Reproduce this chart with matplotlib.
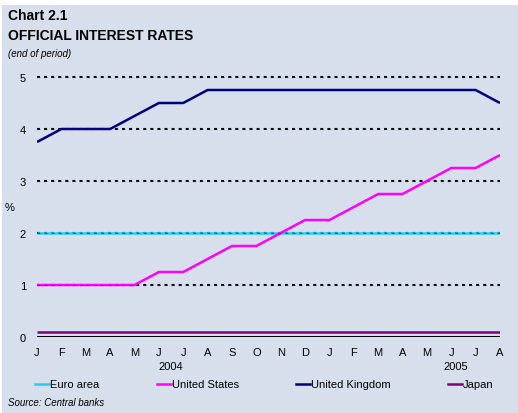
import matplotlib.pyplot as plt
from matplotlib.lines import Line2D
from matplotlib.patches import Rectangle

plt.rcParams['font.family'] = ['Liberation Sans', 'DejaVu Sans']

months = ['J', 'F', 'M', 'A', 'M', 'J', 'J', 'A', 'S', 'O', 'N', 'D',
          'J', 'F', 'M', 'A', 'M', 'J', 'J', 'A']
years = ['2004', '2005']
year_pos = [5.5, 17.2]

euro = [2.0] * 20
us = [1.0, 1.0, 1.0, 1.0, 1.0, 1.25, 1.25, 1.5, 1.75, 1.75,
      2.0, 2.25, 2.25, 2.5, 2.75, 2.75, 3.0, 3.25, 3.25, 3.5]
uk = [3.75, 4.0, 4.0, 4.0, 4.25, 4.5, 4.5, 4.75, 4.75, 4.75,
      4.75, 4.75, 4.75, 4.75, 4.75, 4.75, 4.75, 4.75, 4.75, 4.5]
japan = [0.1] * 20

names = ['Euro area', 'United States', 'United Kingdom', 'Japan']
colors = ['#22CCF5', '#FF00FF', '#000080', '#800080']
series = [euro, us, uk, japan]

bg = '#D8DFEC'
W, H = 518, 414

fig = plt.figure(figsize=(W / 100, H / 100), dpi=100, facecolor='white')
fig.add_artist(Rectangle((2 / W, 0), 1, 1 - 6 / H, transform=fig.transFigure,
                         facecolor=bg, edgecolor='none', zorder=0))

ax = fig.add_axes([37 / W, 1 - 338 / H, 463 / W, 5.2 * 52 / H])
ax.set_facecolor('none')
x = list(range(len(months)))

# dotted gridlines under the series, plus a thin copy on top so the
# dots still show through where a series sits on a gridline
for v in range(1, 6):
    ax.axhline(v, color='black', lw=1.5, ls=(0, (1.4, 2.0)), zorder=1)
    ax.axhline(v, color='#1a2a3a', lw=0.6, alpha=0.7, ls=(0, (3.5, 5.0)), zorder=4)
ax.axhline(0, color='black', lw=1.4, zorder=3)

for s, c in zip(series, colors):
    ax.plot(x, s, color=c, lw=1.8, zorder=2, solid_capstyle='butt')

ax.set_xlim(0, 19)
ax.set_ylim(0, 5.2)
for sp in ax.spines.values():
    sp.set_visible(False)

ax.set_yticks(range(6))
ax.set_yticklabels([str(v) for v in range(6)])
ax.set_xticks(x)
ax.set_xticklabels(months)
ax.tick_params(axis='both', length=0, labelsize=8)
ax.tick_params(axis='y', pad=8)
ax.tick_params(axis='x', pad=7)

for yr, p in zip(years, year_pos):
    ax.text(p, -0.55, yr, ha='center', va='center', fontsize=8)

fig.text(10 / W, 1 - 208 / H, '%', ha='center', va='center', fontsize=8)

# titles
fig.text(8 / W, 1 - 16 / H, 'Chart 2.1', fontsize=10, fontweight='bold',
         va='center', ha='left')
fig.text(8 / W, 1 - 36 / H, 'OFFICIAL INTEREST RATES', fontsize=10,
         fontweight='bold', va='center', ha='left')
fig.text(8 / W, 1 - 54 / H, '(end of period)', fontsize=7, style='italic',
         va='center', ha='left')

# legend
leg_x = [35, 157, 296, 448]
ly = 1 - 385 / H
for nm, c, lx in zip(names, colors, leg_x):
    fig.add_artist(Line2D([lx / W, (lx + 14) / W], [ly, ly], color=c, lw=1.8,
                          transform=fig.transFigure))
    fig.text((lx + 15) / W, ly, nm, fontsize=8, va='center', ha='left')

fig.text(8 / W, 1 - 403 / H, 'Source: Central banks', fontsize=7,
         style='italic', va='center', ha='left')

fig.savefig('out.png', dpi=100, facecolor='white')
